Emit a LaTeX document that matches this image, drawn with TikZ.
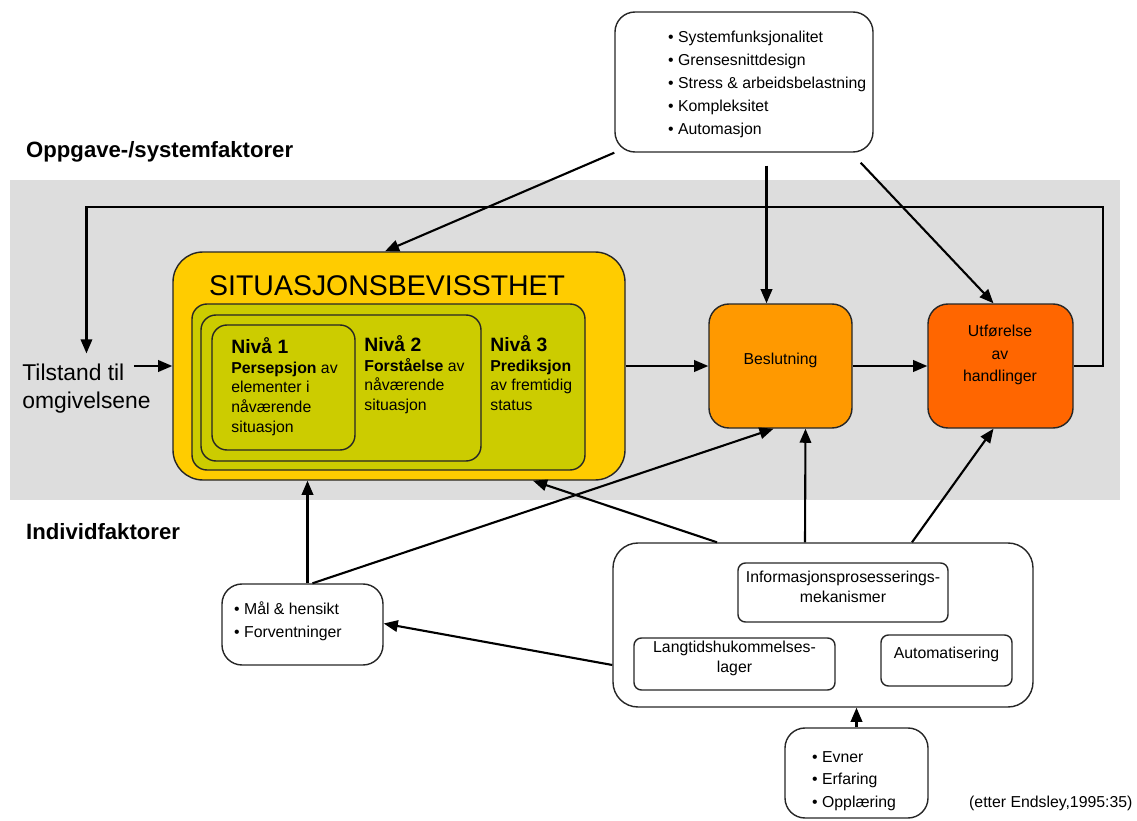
\documentclass[tikz,border=0pt]{standalone}
\usepackage{fontspec}
\setmainfont{Liberation Sans}
\usetikzlibrary{arrows.meta,fit,calc}
\definecolor{bandgray}{RGB}{221,221,221}
\definecolor{sayellow}{RGB}{255,204,0}
\definecolor{nivgreen}{RGB}{204,204,0}
\definecolor{beslorange}{RGB}{255,153,0}
\definecolor{utforange}{RGB}{255,102,0}

\begin{document}
\begin{tikzpicture}[x=0.02cm, y=-0.02cm,
        box/.style={draw=black!85, line width=0.8pt, rounded corners=0.4cm, inner sep=0pt},
        niv/.style={box, fill=nivgreen, rounded corners=0.3cm},
        inbox/.style={box, rounded corners=0.15cm, align=center, font=\fontsize{9}{11.5}\selectfont},
        arr/.style={-{Triangle[length=8pt,width=6.5pt]}, line width=1.2pt},
        small/.style={font=\fontsize{9}{13}\selectfont},
        lvl/.style={anchor=north west, align=left, inner sep=0pt, font=\fontsize{9}{11.3}\selectfont},
        head/.style={anchor=west, font=\fontsize{12.6}{15}\selectfont\bfseries}]

        \useasboundingbox (0,0) rectangle (1137,821);
        \fill[bandgray] (10,180) rectangle (1120,500);

        \node[head] (hsys) at (20,152) {Oppgave-/systemfaktorer};
        \node[head] (hind) at (20,532) {Individfaktorer};

        \node[box, fit={(615,12) (873,152)}] (sysf) {};
        \node[small, anchor=north west, align=left] (sysftxt) at (662,25)
            {• Systemfunksjonalitet\\ • Grensesnittdesign\\ • Stress \& arbeidsbelastning\\ • Kompleksitet\\ • Automasjon};

        \node[box, fill=sayellow, rounded corners=0.6cm, fit={(173,252) (625,480)}] (sa) {};
        \node[anchor=west, font=\fontsize{16.2}{18}\selectfont] (satitle) at (203,286) {SITUASJONSBEVISSTHET};
        \node[niv, fit={(192,304) (585,470)}] (niva3) {};
        \node[niv, fit={(201,315) (481,461)}] (niva2) {};
        \node[niv, fit={(212,325) (355,450)}] (niva1) {};
        \node[lvl] (niv1txt) at (231,337)
            {{\fontsize{11}{11.3}\selectfont\bfseries Nivå 1}\\ \textbf{Persepsjon} av\\ elementer i\\ nåværende\\ situasjon};
        \node[lvl] (niv2txt) at (364,335)
            {{\fontsize{11}{11.3}\selectfont\bfseries Nivå 2}\\ \textbf{Forståelse} av\\ nåværende\\ situasjon};
        \node[lvl] (niv3txt) at (490,335)
            {{\fontsize{11}{11.3}\selectfont\bfseries Nivå 3}\\ \textbf{Prediksjon}\\ av fremtidig\\ status};

        \node[box, fill=beslorange, fit={(709,304) (852,428)}, small] (besl) {Beslutning};
        \node[box, fill=utforange, fit={(928,304) (1073,428)}] (utf) {};
        \node[small, align=center] (utftxt) at (1000,355) {Utførelse\\av\\handlinger};

        \node[anchor=west, align=left, inner sep=0pt, font=\fontsize{13}{16}\selectfont] (tilst) at (22,389) {Tilstand til\\omgivelsene};

        \node[box, fit={(222,584) (383,665)}] (mal) {};
        \node[small, anchor=north west, align=left] (maltxt) at (228,596) {• Mål \& hensikt\\ • Forventninger};

        \node[box, rounded corners=0.5cm, fit={(613,543) (1033,707)}] (proc) {};
        \node[inbox, fit={(738,563) (948,622)}] (info) {Informasjonsprosesserings-\\mekanismer};
        \node[inbox, fit={(634,638) (835,690)}] (ltm) {Langtidshukommelses-\\lager};
        \node[inbox, fit={(881,635) (1012,686)}] (auto) {Automatisering};

        \node[box, fit={(785,728) (928,818)}] (evner) {};
        \node[small, anchor=north west, align=left] (evnertxt) at (806,745) {• Evner\\ • Erfaring\\ • Opplæring};

        \node[small, anchor=west] (kilde) at (963,803) {(etter Endsley,1995:35)};

        \draw[arr] ($(tilst.east |- sa.west)+(-17,0)$) -- (sa.west);
        \draw[arr] (sa.east) -- (besl.west);
        \draw[arr] (besl.east) -- (utf.west);
        \draw[arr] (utf.east) -- ++(29,0) -- ++(0,-159) -| ([yshift=6pt]tilst.north);
        \draw[arr] (sysf.south west) -- ($(sa.north)+(-14,0)$);
        \draw[arr] ($(besl.north |- sysf.south)+(-14,13)$) -- ($(besl.north)+(-14,0)$);
        \draw[arr] ($(sysf.south east)+(-13,10)$) -- ($(utf.north)+(-7,0)$);
        \draw[arr] ($(mal.north)+(5,0)$) -- ($(mal.north |- sa.south)+(5,0)$);
        \draw[arr] ($(mal.north)+(10,0)$) -- ($(besl.south)+(-7,0)$);
        \draw[arr] ($(proc.north)+(-106,0)$) -- ($(sa.south)+(134,0)$);
        \draw[arr] ($(proc.north)+(-18,0)$) -- ($(besl.south)+(25,0)$);
        \draw[arr] ($(proc.north)+(89,0)$) -- ($(utf.south)+(-7,0)$);
        \draw[arr] ($(proc.west)+(0,40)$) -- ($(mal.east)+(0,-1)$);
        \draw[arr] (evner.north) -- (evner.north |- proc.south);
    \end{tikzpicture}
\end{document}
